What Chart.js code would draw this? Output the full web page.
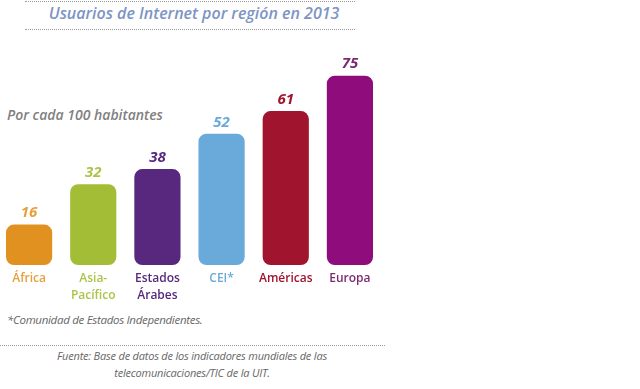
<!DOCTYPE html>
<html>
<head>
<meta charset="utf-8">
<script src="https://cdn.jsdelivr.net/npm/chart.js@4.4.0/dist/chart.umd.min.js"></script>
<style>
  body { margin: 0; background: #fff; width: 640px; height: 389px; overflow: hidden; position: relative; font-family: "Open Sans", sans-serif; }
  .dots { position: absolute; height: 0; border-top: 1px dotted #9a9a9a; }
  #title { position: absolute; top: 2px; left: 0; width: 388px; text-align: center; font-style: italic; font-weight: 600; font-size: 16px; color: #7d95c3; }
  #unit { position: absolute; top: 105px; left: 7px; font-style: italic; font-weight: 600; font-size: 14px; color: #808080; }
  #note { position: absolute; top: 312px; left: 7px; font-style: italic; font-size: 11.5px; color: #666; letter-spacing: -0.3px; }
  #source { position: absolute; top: 347px; left: 0; width: 384px; text-align: center; font-style: italic; font-size: 11px; line-height: 17px; color: #666; letter-spacing: -0.2px; }
  #wrap { position: absolute; top: 0; left: -3px; width: 385px; height: 310px; }
</style>
</head>
<body>
<div class="dots" style="top:1px;left:25px;width:330px"></div>
<div id="title">Usuarios de Internet por región en 2013</div>
<div class="dots" style="top:29px;left:25px;width:330px"></div>
<div id="unit">Por cada 100 habitantes</div>
<div id="wrap"><canvas id="myChart"></canvas></div>
<div id="note">*Comunidad de Estados Independientes.</div>
<div class="dots" style="top:345px;left:0;width:385px"></div>
<div id="source">Fuente: Base de datos de los indicadores mundiales de las<br>telecomunicaciones/TIC de la UIT.</div>
<script>
const regions = [["África"], ["Asia-", "Pacífico"], ["Estados", "Árabes"], ["CEI*"], ["Américas"], ["Europa"]];
const users = [16, 32, 38, 52, 61, 75];
const barColors = ["#e0911f", "#a3be36", "#57287d", "#6aaadb", "#a0142d", "#8e0c7b"];
const labelColors = ["#e6a03e", "#aac44a", "#57287d", "#6aaadb", "#a0142d", "#7d2a6e"];

// value labels above bars
const valueLabels = {
  id: "valueLabels",
  afterDatasetsDraw(chart) {
    const c = chart.ctx;
    const meta = chart.getDatasetMeta(0);
    c.save();
    c.font = "italic bold 15px 'Open Sans'";
    c.textAlign = "center";
    c.textBaseline = "bottom";
    meta.data.forEach((bar, i) => {
      c.fillStyle = labelColors[i];
      c.fillText(users[i], bar.x, bar.y - 4);
    });
    c.restore();
  },
};

const ctx = document.getElementById("myChart").getContext("2d");
const chart = new Chart(ctx, {
  type: "bar",
  data: {
    labels: regions,
    datasets: [
      {
        data: users,
        backgroundColor: barColors,
        borderRadius: 8,
        borderSkipped: false,
        barPercentage: 0.72,
        categoryPercentage: 1,
      },
    ],
  },
  options: {
    responsive: true,
    maintainAspectRatio: false,
    animation: false,
    layout: { padding: 0 },
    plugins: { legend: { display: false }, tooltip: { enabled: false } },
    scales: {
      x: {
        grid: { display: false, drawTicks: false },
        border: { display: false },
        afterFit(scale) {
          scale.height = 45;
        },
        ticks: {
          padding: 5,
          color: (c) => labelColors[c.index],
          font: { family: "Open Sans", size: 12, weight: "600", lineHeight: 1.4 },
          maxRotation: 0,
        },
      },
      y: {
        display: false,
        min: 0,
        max: 105,
      },
    },
  },
  plugins: [valueLabels],
});
</script>
</body>
</html>
